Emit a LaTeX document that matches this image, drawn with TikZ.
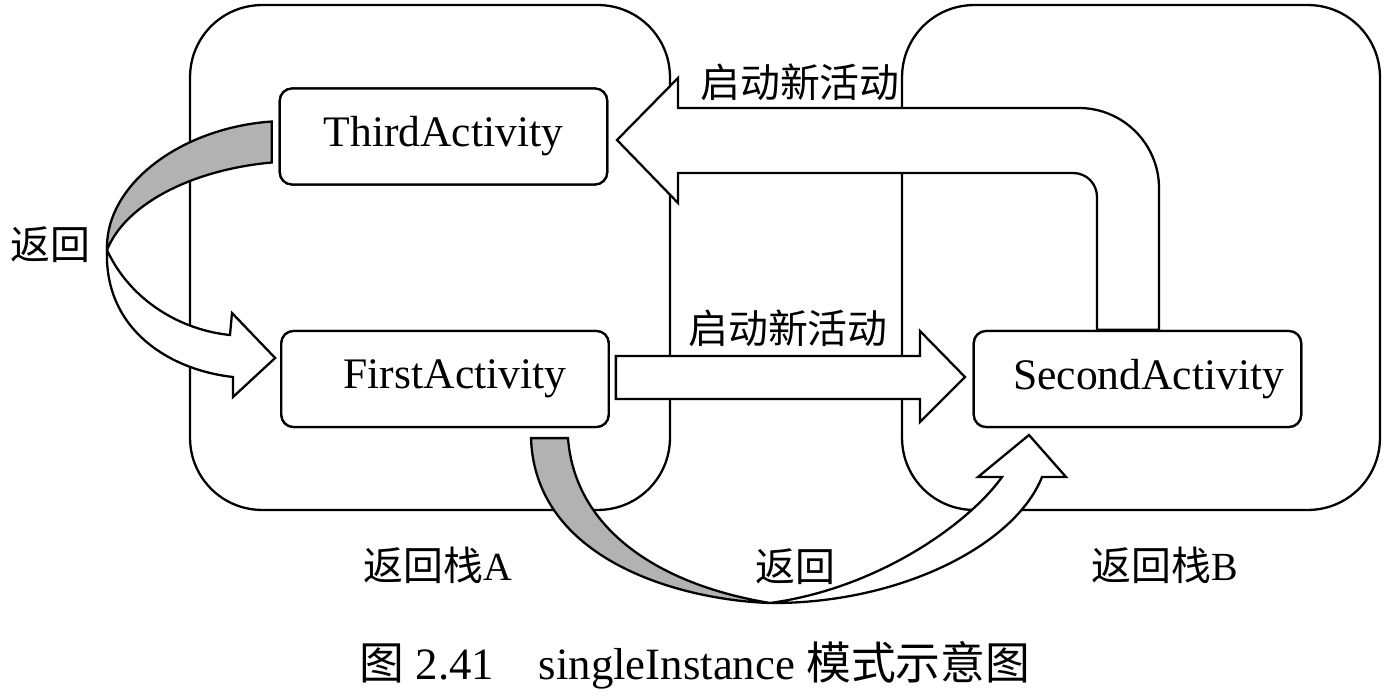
\documentclass[tikz,border=0pt]{standalone}
\usepackage{fontspec}
\setmainfont{Liberation Serif}
\newfontfamily\cjk{Noto Sans CJK SC}
\usetikzlibrary{calc}
\newcommand{\zh}[1]{{\cjk #1}}
\tikzset{
  stackbox/.style={draw, line width=1.3pt, rounded corners=41pt},
  actbox/.style={draw, fill=white, line width=1.3pt, rounded corners=7pt,
    minimum width=6.55cm, minimum height=1.92cm, font=\fontsize{24.8}{28}\selectfont},
  blockarrow/.style={draw, fill=white, line width=1.3pt, line join=miter},
  shadeside/.style={blockarrow, fill=black!30},
  cnlabel/.style={font=\fontsize{22.7}{26}\selectfont},
  captionlabel/.style={font=\fontsize{25.5}{30}\selectfont},
}

\begin{document}
\begin{tikzpicture}[x=0.02cm, y=-0.02cm]
  \useasboundingbox (0,0) rectangle (1387,699);

  % the two back stacks
  \node[stackbox, minimum width=9.6cm, minimum height=10.1cm] (stackA) at (430,257.5) {};
  \node[stackbox, minimum width=9.56cm, minimum height=10.1cm] (stackB) at (1141,257.5) {};

  % activities (placed first, drawn again on top below)
  \path (443.5,136.5) node[actbox] (third) {};
  \path (445,379) node[actbox] (first) {};
  \path (1137.5,379) node[actbox] (second) {};

  % second -> third
  \draw[blockarrow] (1097,0 |- second.north) -- (1097,197) .. controls (1097,184) and (1087,173) .. (1073,173)
    -- (678,173) -- (678,203) -- (617,140) -- (678,78) -- (678,108) -- (1079,108)
    .. controls (1123,108) and (1159,144) .. (1159,188) -- (1159,0 |- second.north) -- cycle;

  % first -> second
  \draw[blockarrow] ($(first.east)+(6,-23)$) -- (920,356) -- (920,331) -- (965,377)
    -- (920,422) -- (920,399) -- ($(first.east)+(6,20)$) -- cycle;

  % third -> first (back)
  \draw[shadeside] ($(third.west)+(-7,-15)$) .. controls (180,128) and (105,185) .. (107,250)
    .. controls (125,205) and (190,170) .. ($(third.west)+(-7,26)$) -- cycle;
  \draw[blockarrow] (107,250) .. controls (130,300) and (180,330) .. (230,335)
    -- (232,313) -- ($(first.west)+(-5,-21)$) -- (233,397) -- (233,377)
    .. controls (170,370) and (104,330) .. (107,250) -- cycle;

  % first -> second (back)
  \draw[shadeside] ($(first.south)+(86,10)$) .. controls (535,560) and (680,600) .. (770,603)
    .. controls (660,585) and (575,530) .. ($(first.south)+(123,10)$) -- cycle;
  \draw[blockarrow] (770,603) .. controls (900,604) and (1015,545) .. (1042,477)
    -- (1066,477) -- (1029,435) -- (978,477) -- (1002,477)
    .. controls (970,522) and (880,588) .. (770,603) -- cycle;

  % activities
  \node[actbox] at (third) {ThirdActivity};
  \node[actbox] at (first) {\hspace*{0.4cm}FirstActivity};
  \node[actbox] at (second) {\hspace*{0.45cm}SecondActivity};

  % labels
  \node[cnlabel] (newTop) at (800,82) {\zh{启动新活动}};
  \node[cnlabel] (newMid) at (788,328) {\zh{启动新活动}};
  \node[cnlabel] (backLeft) at (50,245) {\zh{返回}};
  \node[cnlabel] (backBottom) at (795,567) {\zh{返回}};
  \node[cnlabel] (nameA) at (438,565) {\zh{返回栈}A};
  \node[cnlabel] (nameB) at (1165,565) {\zh{返回栈}B};
  \node[captionlabel] (caption) at (695,665) {\zh{图} 2.41\hspace{1em}singleInstance \zh{模式示意图}};
\end{tikzpicture}
\end{document}
